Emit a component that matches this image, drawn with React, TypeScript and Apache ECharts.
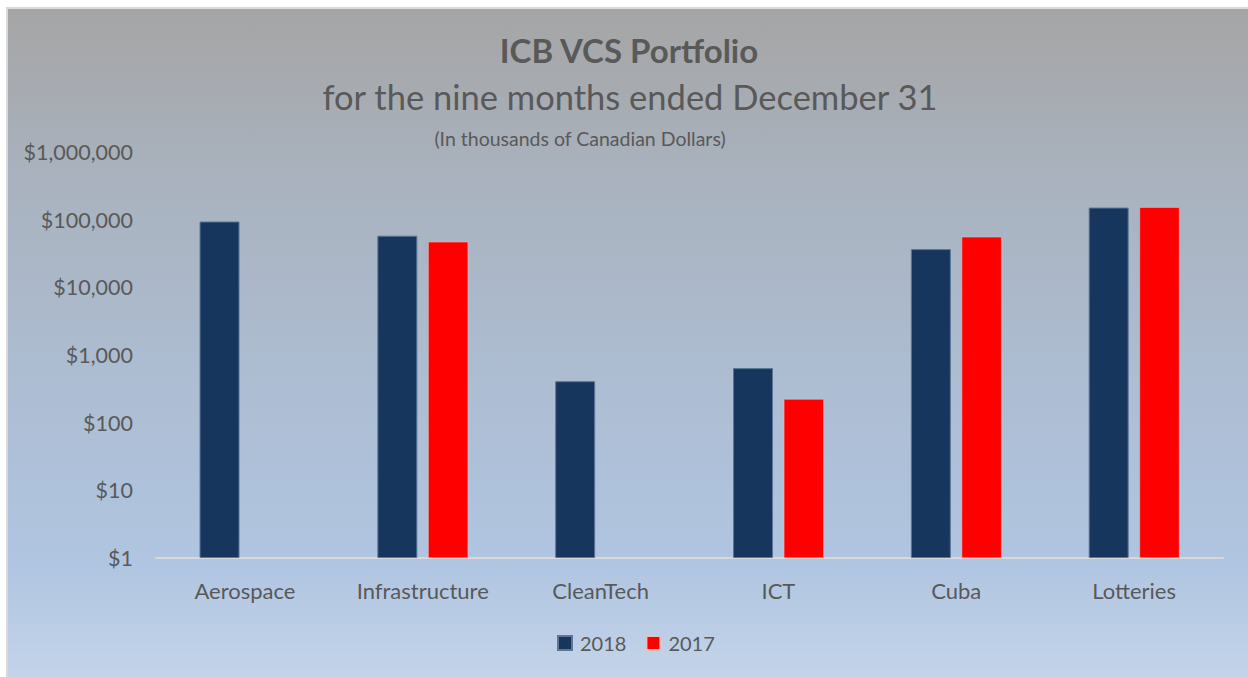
import React, { useEffect, useRef } from "react";
import * as echarts from "echarts";

const categories = ["Aerospace", "Infrastructure", "CleanTech", "ICT", "Cuba", "Lotteries"];
const values2018 = [94000, 58000, 410, 640, 36700, 151000];
const values2017: (number | null)[] = [null, 47000, null, 223, 55700, 153000];
const seriesNames = ["2018", "2017"];
const yTicks = [1, 10, 100, 1000, 10000, 100000, 1000000];

const titleText = "ICB VCS Portfolio";
const subtitleText = "for the nine months ended December 31";
const noteText = "(In thousands of Canadian Dollars)";

const FONT = "Lato, 'Open Sans', sans-serif";
const TEXT = "#595959";

export default function App() {
  const ref = useRef<HTMLDivElement>(null);
  useEffect(() => {
    if (!ref.current) return;
    const chart = echarts.init(ref.current, undefined, { renderer: "svg" });
    chart.setOption({
      animation: false,
      textStyle: { fontFamily: FONT },
      graphic: [
        {
          type: "text",
          x: 629,
          y: 50,
          style: {
            text: titleText,
            font: `bold 33px ${FONT}`,
            fill: TEXT,
            textAlign: "center",
            textVerticalAlign: "middle",
          },
        },
        {
          type: "text",
          x: 630,
          y: 96,
          style: {
            text: subtitleText,
            font: `34.5px ${FONT}`,
            fill: TEXT,
            textAlign: "center",
            textVerticalAlign: "middle",
          },
        },
        {
          type: "text",
          x: 580,
          y: 138,
          style: {
            text: noteText,
            font: `19.5px ${FONT}`,
            fill: TEXT,
            textAlign: "center",
            textVerticalAlign: "middle",
          },
        },
      ],
      legend: {
        data: seriesNames,
        left: 552,
        top: 628,
        icon: "rect",
        itemWidth: 14,
        itemHeight: 14,
        itemGap: 19,
        textStyle: { color: TEXT, fontSize: 20, fontFamily: FONT, padding: [0, 0, 0, 3] },
      },
      grid: { left: 156, right: 25, top: 152, bottom: 119, containLabel: false },
      xAxis: {
        type: "category",
        data: categories,
        axisLine: { show: true, lineStyle: { color: "#d9d9d9", width: 2 } },
        axisTick: { show: false },
        axisLabel: { color: TEXT, fontSize: 22, fontFamily: FONT, margin: 21 },
      },
      yAxis: {
        type: "log",
        logBase: 10,
        min: yTicks[0],
        max: yTicks[yTicks.length - 1],
        axisLine: { show: false },
        axisTick: { show: false },
        splitLine: { show: false },
        axisLabel: {
          color: TEXT,
          fontSize: 21.5,
          fontFamily: FONT,
          margin: 23,
          formatter: (v: number) => "$" + Math.round(v).toLocaleString("en-US"),
        },
      },
      series: [
        {
          name: seriesNames[0],
          type: "bar",
          data: values2018,
          barWidth: 40,
          barGap: "27%",
          itemStyle: { color: "#17365d", borderColor: "#5d7696", borderWidth: 1 },
        },
        {
          name: seriesNames[1],
          type: "bar",
          data: values2017,
          barWidth: 40,
          barGap: "27%",
          itemStyle: { color: "#ff0000", borderColor: "#e8c0c0", borderWidth: 0.5 },
        },
      ],
    });
    return () => chart.dispose();
  }, []);

  return (
    <div style={{ position: "fixed", left: 0, top: 0, width: 1248, height: 677, background: "#ffffff" }}>
      <div
        style={{
          position: "absolute",
          left: 6,
          top: 7,
          width: 1250,
          height: 680,
          boxSizing: "border-box",
          border: "2px solid #d9d9d9",
          background:
            "linear-gradient(to bottom, #a5a5a5 0%, #a9b2be 25%, #adbdd2 55%, #b0c5e1 82%, #c5d5ea 100%)",
        }}
      />
      <div ref={ref} style={{ position: "absolute", left: 0, top: 0, width: 1248, height: 677 }} />
    </div>
  );
}
